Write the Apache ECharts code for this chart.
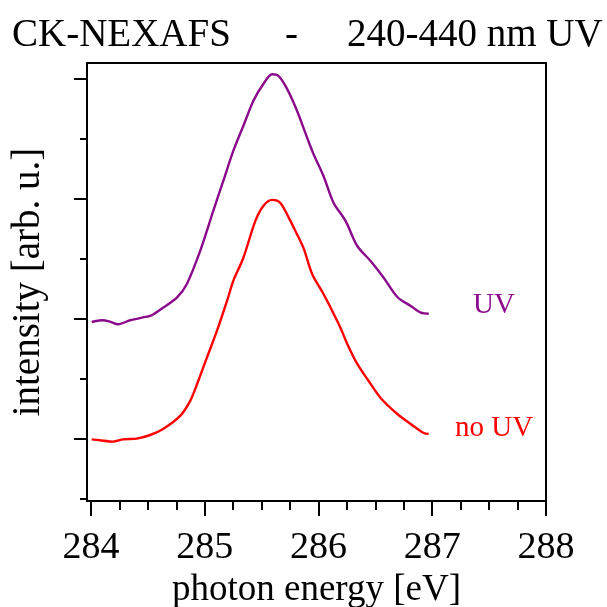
<!DOCTYPE html>
<html>
<head>
<meta charset="utf-8">
<script src="https://cdn.jsdelivr.net/npm/echarts@6/dist/echarts.min.js"></script>
<style>html,body{margin:0;padding:0;background:#fff}#c{width:607px;height:607px}</style>
</head>
<body>
<div id="c"></div>
<script>
// photon energy [eV] / intensity [arb. u.]
const energyNoUV = [284.006,284.079,284.194,284.282,284.403,284.520,284.634,284.784,284.872,284.943,285.019,285.107,285.196,285.251,285.339,285.445,285.515,285.592,285.665,285.753,285.797,285.868,285.944,286.044,286.121,286.194,286.253,286.341,286.441,286.546,286.693,286.811,286.925,286.969];
const intensityNoUV = [-0.003,-0.011,-0.022,-0.003,0.003,0.033,0.083,0.192,0.317,0.483,0.678,0.900,1.150,1.317,1.508,1.817,1.942,1.992,1.967,1.817,1.733,1.592,1.375,1.208,1.067,0.925,0.792,0.625,0.483,0.342,0.208,0.125,0.050,0.042];
const energyUV = [284.006,284.094,284.167,284.238,284.344,284.491,284.535,284.634,284.755,284.843,284.960,285.075,285.163,285.251,285.339,285.427,285.515,285.592,285.648,285.724,285.812,285.900,285.956,286.044,286.132,286.238,286.341,286.458,286.573,286.693,286.811,286.899,286.969];
const intensityUV = [0.975,0.989,0.978,0.956,0.989,1.019,1.031,1.094,1.178,1.292,1.567,1.900,2.150,2.400,2.608,2.817,2.958,3.039,3.025,2.917,2.733,2.511,2.375,2.192,1.969,1.817,1.608,1.483,1.344,1.183,1.108,1.053,1.044];
const xMajorTicks = [284,285,286,287,288];
const xMinorTicks = [284.25,284.5,284.75,285.25,285.5,285.75,286.25,286.5,286.75,287.25,287.5,287.75];
const yMajorTicks = [0,1,2,3];
const yMinorTicks = [-0.5,0.5,1.5,2.5];

const FONT = '"Liberation Serif", "DejaVu Serif", serif';
const PURPLE = '#8B0A8B';
const RED = '#FF0000';

const zip = (a,b) => a.map((v,i)=>[v,b[i]]);

const chart = echarts.init(document.getElementById('c'), null, {renderer:'canvas'});
const xBase = {type:'value', min:283.965, max:288.0, splitLine:{show:false}, position:'bottom'};
const yBase = {type:'value', min:-0.517, max:3.133, splitLine:{show:false}, position:'left'};
chart.setOption({
  animation:false,
  backgroundColor:'#fff',
  grid:{left:87, right:61, top:63, bottom:106, containLabel:false, outerBoundsMode:'none',
        show:true, borderColor:'#000', borderWidth:2, backgroundColor:'transparent'},
  xAxis:[
    Object.assign({}, xBase, {
      axisLine:{show:true, onZero:false, lineStyle:{color:'#000', width:2}},
      axisTick:{show:true, customValues:xMajorTicks, length:15, lineStyle:{color:'#000', width:2}},
      axisLabel:{show:true, customValues:xMajorTicks, color:'#000', fontSize:38, fontFamily:FONT, margin:28},
      name:'photon energy [eV]', nameLocation:'middle', nameGap:58,
      nameTextStyle:{color:'#000', fontSize:37, fontFamily:FONT}
    }),
    Object.assign({}, xBase, {
      axisLine:{show:false, onZero:false},
      axisTick:{show:true, customValues:xMinorTicks, length:9, lineStyle:{color:'#000', width:2}},
      axisLabel:{show:false}
    })
  ],
  yAxis:[
    Object.assign({}, yBase, {
      axisLine:{show:true, onZero:false, lineStyle:{color:'#000', width:2}},
      axisTick:{show:true, customValues:yMajorTicks, length:13, lineStyle:{color:'#000', width:2}},
      axisLabel:{show:false},
      name:'intensity [arb. u.]', nameLocation:'middle', nameGap:39,
      nameTextStyle:{color:'#000', fontSize:39, fontFamily:FONT}
    }),
    Object.assign({}, yBase, {
      axisLine:{show:false, onZero:false},
      axisTick:{show:true, customValues:yMinorTicks, length:7, lineStyle:{color:'#000', width:2}},
      axisLabel:{show:false}
    })
  ],
  series:[
    {name:'UV', type:'line', data:zip(energyUV,intensityUV), showSymbol:false, smooth:0.3,
     lineStyle:{color:PURPLE, width:2.4}, itemStyle:{color:PURPLE}},
    {name:'no UV', type:'line', data:zip(energyNoUV,intensityNoUV), showSymbol:false, smooth:0.3,
     lineStyle:{color:RED, width:2.4}, itemStyle:{color:RED}}
  ],
  graphic:[
    {type:'text', style:{text:'CK-NEXAFS', x:12, y:36, font:'39px '+FONT, fill:'#000', textVerticalAlign:'middle'}},
    {type:'text', style:{text:'-', x:285, y:36, font:'39px '+FONT, fill:'#000', textVerticalAlign:'middle'}},
    {type:'text', style:{text:'240-440 nm UV', x:347, y:36, font:'39px '+FONT, fill:'#000', textVerticalAlign:'middle'}},
    {type:'text', style:{text:'UV', x:494, y:305, font:'29px '+FONT, fill:PURPLE, textAlign:'center', textVerticalAlign:'middle'}},
    {type:'text', style:{text:'no UV', x:494, y:428, font:'29px '+FONT, fill:RED, textAlign:'center', textVerticalAlign:'middle'}}
  ]
});
</script>
</body>
</html>
